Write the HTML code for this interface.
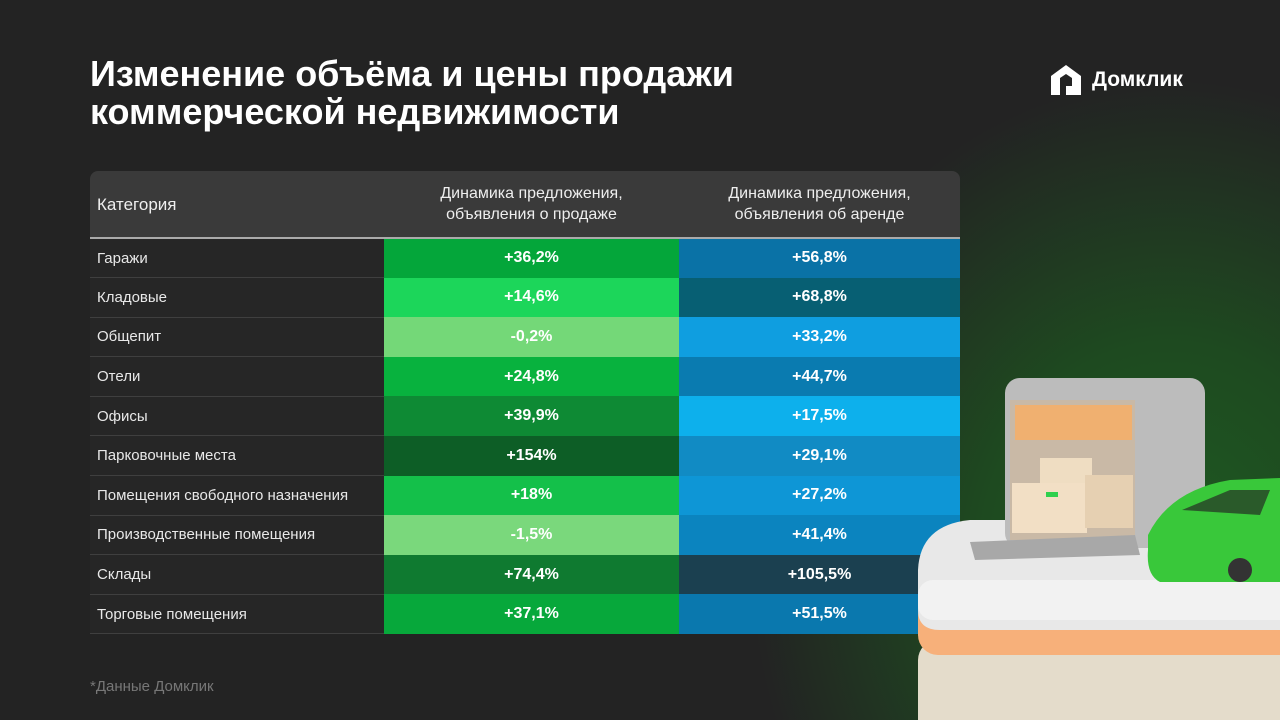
<!DOCTYPE html>
<html><head><meta charset="utf-8"><style>
*{margin:0;padding:0;box-sizing:border-box}
html,body{width:1280px;height:720px;overflow:hidden}
body{background:#232323;font-family:"Liberation Sans","Noto Sans CJK SC",sans-serif;position:relative;color:#fff}
.glow{position:absolute;left:0;top:0;width:1280px;height:720px;background:radial-gradient(ellipse 420px 480px at 1170px 560px,#1f5a22 0%,#1e4a20 45%,rgba(35,35,35,0) 100%)}
h1{position:absolute;left:90px;top:55px;font-size:36px;line-height:38px;font-weight:bold;color:#fff}
.logo{position:absolute;left:1048px;top:62px;display:flex;align-items:center;font-weight:bold;font-size:21px}
table{position:absolute;left:90px;top:171px;width:870px;border-collapse:collapse}
th{background:#3a3a3a;height:67px;font-weight:normal;font-size:16px;line-height:21px;color:#eee;border-bottom:2px solid #aaa}
th:first-child{text-align:left;padding-left:7px;border-radius:8px 0 0 0;font-size:17px}
th:last-child{border-radius:0 8px 0 0}
td{height:39.6px;font-size:15px;border-bottom:1px solid #3f3f3f}
td:first-child{width:294px;padding-left:7px;color:#e8e8e8;background:#262626}
td.v{text-align:center;font-weight:bold;font-size:16px;border-bottom:none}
td.a{width:295px}
.foot{position:absolute;left:90px;top:678px;font-size:15px;color:#777}
</style></head><body>
<div class="glow"></div>
<h1>Изменение объёма и цены продажи<br>коммерческой недвижимости</h1>
<div class="logo"><svg width="36" height="36" viewBox="0 0 36 36"><path d="M3 14 L18 3 L33 14 L33 33 L18 33 L18 24 L24 24 L24 16 L18 12 L12 16 L12 33 L3 33Z" fill="#fff"/></svg><span style="margin-left:8px">Домклик</span></div>
<table>
<tr><th>Категория</th><th>Динамика предложения,<br>объявления о продаже</th><th>Динамика предложения,<br>объявления об аренде</th></tr>
<tr><td>Гаражи</td><td class="v a" style="background:#04a63a">+36,2%</td><td class="v" style="background:#0a72a6">+56,8%</td></tr>
<tr><td>Кладовые</td><td class="v a" style="background:#1cd65a">+14,6%</td><td class="v" style="background:#075f73">+68,8%</td></tr>
<tr><td>Общепит</td><td class="v a" style="background:#74d878">-0,2%</td><td class="v" style="background:#0f9ee0">+33,2%</td></tr>
<tr><td>Отели</td><td class="v a" style="background:#08b23e">+24,8%</td><td class="v" style="background:#0a7bb0">+44,7%</td></tr>
<tr><td>Офисы</td><td class="v a" style="background:#0e8a34">+39,9%</td><td class="v" style="background:#0db0ec">+17,5%</td></tr>
<tr><td>Парковочные места</td><td class="v a" style="background:#0d5e26">+154%</td><td class="v" style="background:#118bc4">+29,1%</td></tr>
<tr><td>Помещения свободного назначения</td><td class="v a" style="background:#14c04a">+18%</td><td class="v" style="background:#0e96d6">+27,2%</td></tr>
<tr><td>Производственные помещения</td><td class="v a" style="background:#7ad87c">-1,5%</td><td class="v" style="background:#0b84bf">+41,4%</td></tr>
<tr><td>Склады</td><td class="v a" style="background:#0f7a30">+74,4%</td><td class="v" style="background:#1b4050">+105,5%</td></tr>
<tr><td>Торговые помещения</td><td class="v a" style="background:#07a83b">+37,1%</td><td class="v" style="background:#0a78ae">+51,5%</td></tr>
</table>
<svg style="position:absolute;left:900px;top:350px" width="380" height="370">
<rect x="18" y="290" width="400" height="100" rx="20" fill="#e4dccb"/>
<rect x="18" y="245" width="400" height="60" rx="20" fill="#f7b07a"/>
<path d="M18 220 Q20 175 70 170 L380 170 L380 280 L40 280 Q18 280 18 260Z" fill="#e8e8e8"/>
<rect x="18" y="230" width="380" height="40" rx="15" fill="#f2f2f2"/>
<rect x="105" y="28" width="200" height="170" rx="15" fill="#bcbcbc"/>
<rect x="110" y="50" width="125" height="140" fill="#c9b9a6"/>
<rect x="115" y="55" width="117" height="35" fill="#f0b070"/>
<rect x="140" y="108" width="52" height="35" fill="#efddc2"/>
<rect x="112" y="133" width="75" height="50" fill="#f2dfc5"/>
<rect x="185" y="125" width="48" height="53" fill="#e6d0b2"/>
<rect x="146" y="142" width="12" height="5" fill="#2fd04e"/>
<path d="M70 192 L235 185 L240 205 L75 210Z" fill="#a8a8a8"/>
<path d="M248 185 Q270 140 330 130 L380 128 L380 232 L260 232 Q246 225 248 200Z" fill="#39c83a"/>
<path d="M282 160 L330 140 L370 140 L360 165Z" fill="#2a5a2a"/>
<circle cx="340" cy="220" r="12" fill="#333"/>
</svg>
<div class="foot">*Данные Домклик</div>
</body></html>
